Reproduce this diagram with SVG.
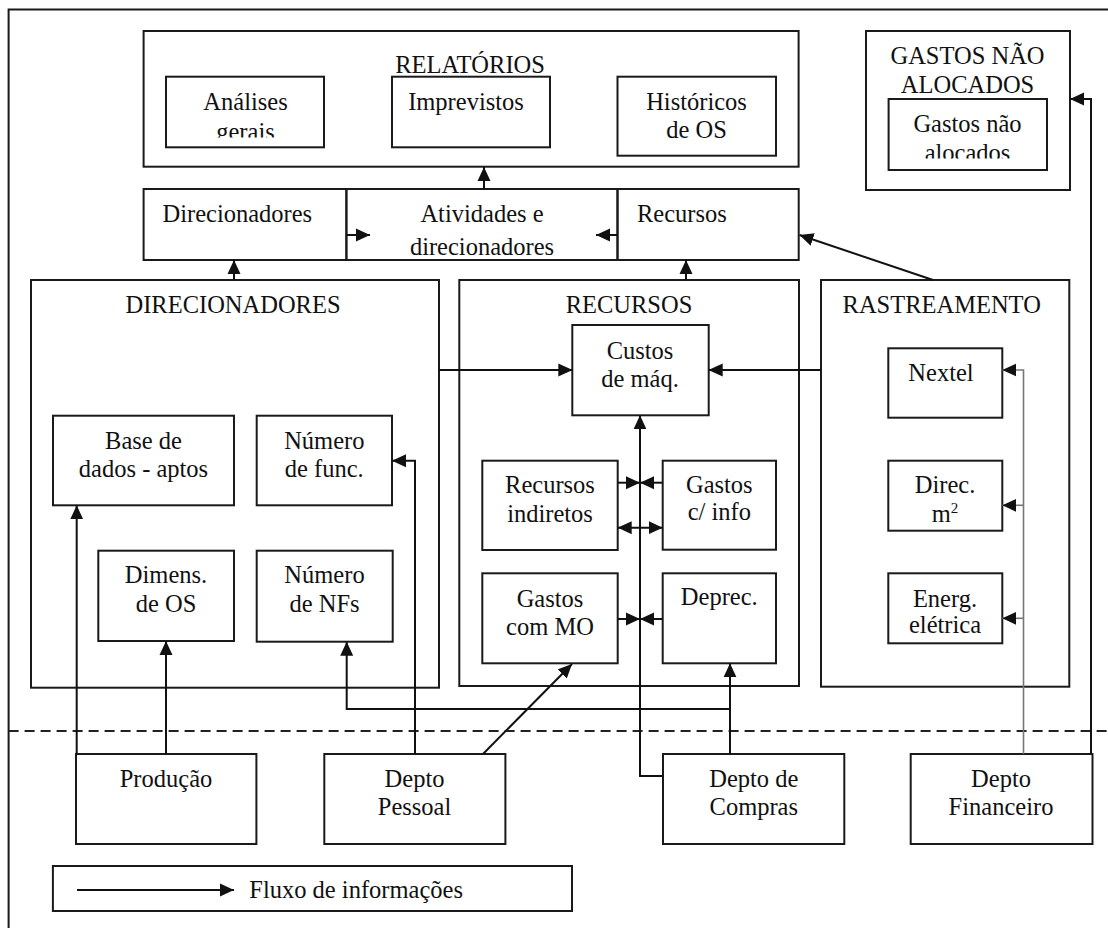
<svg xmlns="http://www.w3.org/2000/svg" width="1108" height="928" viewBox="0 0 1108 928">
<style>
.b{fill:none;stroke:#1a1a1a;stroke-width:2}
.t{font-family:'Liberation Serif','Times New Roman','DejaVu Serif',serif;font-size:24.5px;fill:#111;text-anchor:middle}
.s{text-anchor:start}
.c{fill:none;stroke:#111;stroke-width:2;marker-end:url(#ah)}
.g{fill:none;stroke:#777;stroke-width:1.6}
</style>
<defs>
<marker id="ah" markerUnits="userSpaceOnUse" markerWidth="14" markerHeight="14" refX="14" refY="7" orient="auto-start-reverse"><path d="M0,0.5 L14,7 L0,13.5 z" fill="#111"/></marker>
<clipPath id="clipA"><rect x="166" y="76" width="158" height="61.5"/></clipPath>
<clipPath id="clipG"><rect x="888" y="99" width="159" height="59.5"/></clipPath>
</defs>
<rect width="1108" height="928" fill="#fff"/>
<g id="frame"><path d="M8.6,928 V9.5 H1108" class="b"/></g>
<g font-family="Liberation Serif, Times New Roman, DejaVu Serif, serif">
<g id="relatorios"><rect x="143.6" y="31" width="655" height="135.7" class="b"/><text x="470" y="73" class="t">RELATÓRIOS</text></g>
<g id="analises"><rect x="166" y="76.7" width="158" height="70.6" class="b"/><g clip-path="url(#clipA)"><text x="245.5" y="110" class="t">Análises</text><text x="245.5" y="139.5" class="t">gerais</text></g></g>
<g id="imprevistos"><rect x="392" y="76.7" width="158" height="70.6" class="b"/><text x="466" y="110" class="t">Imprevistos</text></g>
<g id="historicos"><rect x="617.5" y="76.7" width="158.5" height="79" class="b"/><text x="696.5" y="110" class="t">Históricos</text><text x="696.5" y="138.3" class="t">de OS</text></g>
<g id="gastos-nao-alocados"><rect x="866" y="31" width="204" height="159" class="b"/><text x="967.5" y="64.3" class="t">GASTOS NÃO</text><text x="967.5" y="92.7" class="t">ALOCADOS</text></g>
<g id="gastos-nao-alocados-inner"><rect x="888.6" y="99" width="158.4" height="71" class="b"/><g clip-path="url(#clipG)"><text x="967.5" y="131.7" class="t">Gastos não</text><text x="967.5" y="160.5" class="t">alocados</text></g></g>
<g id="direcionadores-mid"><rect x="143.6" y="189" width="202.8" height="71" class="b"/><text x="162.5" y="221.7" class="t s">Direcionadores</text></g>
<g id="atividades"><rect x="346.4" y="189" width="271.1" height="71" class="b"/><text x="482" y="221.7" class="t">Atividades e</text><text x="482" y="255" class="t">direcionadores</text></g>
<g id="recursos-mid"><rect x="617.5" y="189" width="181.2" height="71" class="b"/><text x="637" y="221.7" class="t s">Recursos</text></g>
<g id="direcionadores"><rect x="31" y="280" width="408" height="407.7" class="b"/><text x="233" y="312.7" class="t">DIRECIONADORES</text></g>
<g id="base-dados"><rect x="53" y="415.7" width="181" height="89.6" class="b"/><text x="143.5" y="449" class="t">Base de</text><text x="143.5" y="476.7" class="t">dados - aptos</text></g>
<g id="numero-func"><rect x="256.7" y="415.7" width="135.3" height="89.6" class="b"/><text x="324.3" y="449" class="t">Número</text><text x="324.3" y="476.7" class="t">de func.</text></g>
<g id="dimens-os"><rect x="98.3" y="550.7" width="135.7" height="90.3" class="b"/><text x="166" y="583.3" class="t">Dimens.</text><text x="166" y="612.3" class="t">de OS</text></g>
<g id="numero-nfs"><rect x="256.7" y="550.7" width="136" height="91" class="b"/><text x="324.5" y="583.3" class="t">Número</text><text x="324.5" y="612.3" class="t">de NFs</text></g>
<g id="recursos"><rect x="459.3" y="280" width="339.7" height="406" class="b"/><text x="629" y="312.7" class="t">RECURSOS</text></g>
<g id="custos-maq"><rect x="572.3" y="325" width="136.4" height="90.3" class="b"/><text x="640" y="359.3" class="t">Custos</text><text x="640" y="386.7" class="t">de máq.</text></g>
<g id="recursos-indiretos"><rect x="482.3" y="460.7" width="135.4" height="89.3" class="b"/><text x="550" y="493.3" class="t">Recursos</text><text x="550" y="521.7" class="t">indiretos</text></g>
<g id="gastos-info"><rect x="662.7" y="460.7" width="113.3" height="89" class="b"/><text x="719.3" y="492.7" class="t">Gastos</text><text x="719.3" y="520" class="t">c/ info</text></g>
<g id="gastos-mo"><rect x="482.3" y="573.3" width="135.4" height="90" class="b"/><text x="550" y="606.7" class="t">Gastos</text><text x="550" y="635" class="t">com MO</text></g>
<g id="deprec"><rect x="662.7" y="573.3" width="113.3" height="90" class="b"/><text x="719.3" y="605" class="t">Deprec.</text></g>
<g id="rastreamento"><rect x="821" y="280" width="248.3" height="406.7" class="b"/><text x="941.7" y="312.7" class="t">RASTREAMENTO</text></g>
<g id="nextel"><rect x="888.3" y="348.3" width="114" height="69.4" class="b"/><text x="941" y="381" class="t">Nextel</text></g>
<g id="direc-m2"><rect x="888.3" y="460.7" width="114" height="70" class="b"/><text x="945" y="493.3" class="t">Direc.</text><text x="945" y="521.7" class="t">m<tspan dy="-9" font-size="15">2</tspan></text></g>
<g id="energ"><rect x="888.3" y="573.3" width="114" height="70" class="b"/><text x="945" y="606.7" class="t">Energ.</text><text x="945" y="633.3" class="t">elétrica</text></g>
<g id="producao"><rect x="76" y="754" width="180.4" height="90" class="b"/><text x="166" y="786.7" class="t">Produção</text></g>
<g id="depto-pessoal"><rect x="324.3" y="754" width="181.1" height="90" class="b"/><text x="414.5" y="786.7" class="t">Depto</text><text x="414.5" y="815" class="t">Pessoal</text></g>
<g id="depto-compras"><rect x="663" y="754" width="181.3" height="90" class="b"/><text x="753.8" y="786.7" class="t">Depto de</text><text x="753.8" y="815" class="t">Compras</text></g>
<g id="depto-financeiro"><rect x="910.7" y="754" width="181.8" height="90" class="b"/><text x="1001" y="786.7" class="t">Depto</text><text x="1001" y="815" class="t">Financeiro</text></g>
<g id="legenda"><rect x="52.9" y="866" width="519.1" height="45" class="b"/><path d="M77,890 H234" class="c"/><text x="249.3" y="898.3" class="t s">Fluxo de informações</text></g>
</g>
<g id="divisor"><path d="M8.6,731 H1108" fill="none" stroke="#222" stroke-width="1.8" stroke-dasharray="10 6"/></g>
<g id="connectors">
<path d="M484,189 V167" class="c"/>
<path d="M346.4,235 H370" class="c"/>
<path d="M617.5,235 H596" class="c"/>
<path d="M234,280 V260" class="c"/>
<path d="M686,280 V260" class="c"/>
<path d="M933,280 L799.5,235" class="c"/>
<path d="M1091,754 V99 H1070" class="c"/>
<path d="M439,370 H572.3" class="c"/>
<path d="M821,370 H708.7" class="c"/>
<path d="M663,776 H640 V415.3" class="c"/>
<path d="M617.7,482.7 H640" class="c"/>
<path d="M662.7,482.7 H640" class="c"/>
<path d="M617.7,527.7 H662.7" class="c" marker-start="url(#ah)"/>
<path d="M617.7,619 H640" class="c"/>
<path d="M662.7,619 H640" class="c"/>
<path d="M483,754 L572,664" class="c"/>
<path d="M730,754 V663.3" class="c"/>
<path d="M730,709 H346.7 V641.7" class="c"/>
<path d="M415,754 V460.7 H392" class="c"/>
<path d="M76.7,754 V505.3" class="c"/>
<path d="M166,754 V641" class="c"/>
<path d="M1023.5,754 V370 H1002.3" class="g" marker-end="url(#ah)"/>
<path d="M1023.5,505.3 H1002.3" class="g" marker-end="url(#ah)"/>
<path d="M1023.5,618.3 H1002.3" class="g" marker-end="url(#ah)"/>
</g>
</svg>
